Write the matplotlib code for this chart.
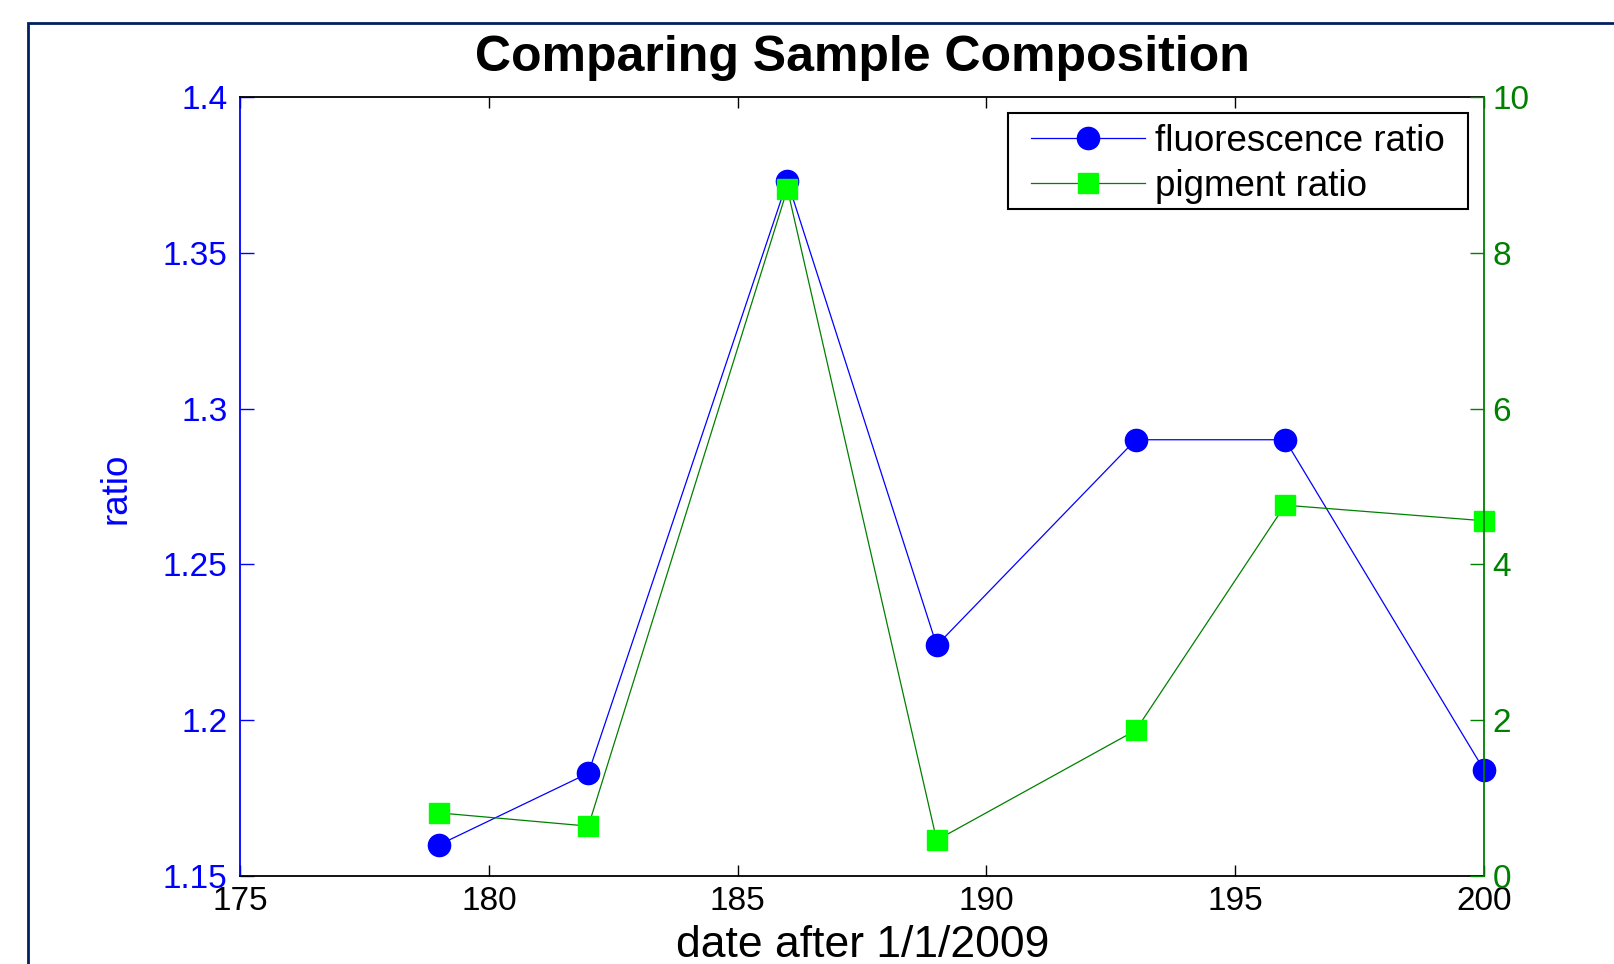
"""Comparing sample composition: fluorescence vs pigment ratio (plotyy style)."""
import matplotlib
matplotlib.use("Agg")
import matplotlib.pyplot as plt
from matplotlib.patches import Rectangle

plt.rcParams["font.family"] = ["Liberation Sans", "DejaVu Sans"]

# data
days = [179, 182, 186, 189, 193, 196, 200]
fluorescence = [1.160, 1.183, 1.373, 1.224, 1.290, 1.290, 1.184]
pigment = [0.81, 0.64, 8.82, 0.46, 1.87, 4.76, 4.56]

x_ticks = [175, 180, 185, 190, 195, 200]
left_ticks = [1.15, 1.2, 1.25, 1.3, 1.35, 1.4]
left_labels = ["1.15", "1.2", "1.25", "1.3", "1.35", "1.4"]
right_ticks = [0, 2, 4, 6, 8, 10]

BLUE = "#0000ff"
GREEN = "#008000"
LIME = "#00ff00"
NAVY = "#00205f"

W, H = 1614, 964
fig = plt.figure(figsize=(W / 100, H / 100), dpi=100)
ax1 = fig.add_axes([0.1487, 0.0913, 0.7708, 0.8081])
ax2 = ax1.twinx()

l1, = ax1.plot(days, fluorescence, "-o", color=BLUE, lw=0.9, ms=16,
               mfc=BLUE, mec=BLUE, label="fluorescence ratio", clip_on=False)
l2, = ax2.plot(days, pigment, "-s", color=GREEN, lw=0.9, ms=15,
               mfc=LIME, mec=LIME, label="pigment ratio", clip_on=False)

ax1.set_xlim(175, 200)
ax1.set_ylim(1.15, 1.4)
ax2.set_ylim(0, 10)
ax1.set_xticks(x_ticks)
ax1.set_yticks(left_ticks)
ax1.set_yticklabels(left_labels)
ax2.set_yticks(right_ticks)

# spines: left blue, right green, top/bottom black
for name, sp in ax1.spines.items():
    sp.set_linewidth(1.3)
    sp.set_color("black")
ax1.spines["left"].set_color(BLUE)
ax1.spines["right"].set_visible(False)
for name, sp in ax2.spines.items():
    sp.set_visible(False)
ax2.spines["right"].set_visible(True)
ax2.spines["right"].set_color(GREEN)
ax2.spines["right"].set_linewidth(1.3)

ax1.tick_params(axis="x", direction="in", top=True, length=8, width=1,
                labelsize=24, pad=7, colors="black")
ax1.tick_params(axis="y", direction="in", right=False, length=10, width=1,
                labelsize=24, pad=9, colors=BLUE)
ax2.tick_params(axis="y", direction="in", length=10, width=1,
                labelsize=24, pad=6, colors=GREEN)

ax1.set_title("Comparing Sample Composition", fontsize=36, fontweight="bold", pad=19)
fig.text(0.5343, 0.019, "date after 1/1/2009", fontsize=32, ha="center", va="center")
fig.text(0.072, 0.4935, "ratio", fontsize=26.5, color=BLUE, rotation=90,
         ha="center", va="center")

# legend without its own frame; the MATLAB-like box is drawn separately
leg = ax2.legend(handles=[l1, l2], loc="upper left",
                 bbox_to_anchor=(1031 / W, 1 - 124 / H), bbox_transform=fig.transFigure,
                 fontsize=26.5, frameon=False, borderpad=0, handlelength=3.1,
                 handletextpad=0.28, labelspacing=0.27, borderaxespad=0)
fig.add_artist(Rectangle((1008 / W, 1 - 209 / H), 460 / W, 96 / H,
                         transform=fig.transFigure, fill=False, ec="black", lw=1.5))

# dark outer frame of the original screenshot
fig.add_artist(Rectangle((28 / W, -0.1), 1.2, 1.1 - 23 / H,
                         transform=fig.transFigure, fill=False, ec=NAVY, lw=2))

fig.savefig("out.png", dpi=100)
